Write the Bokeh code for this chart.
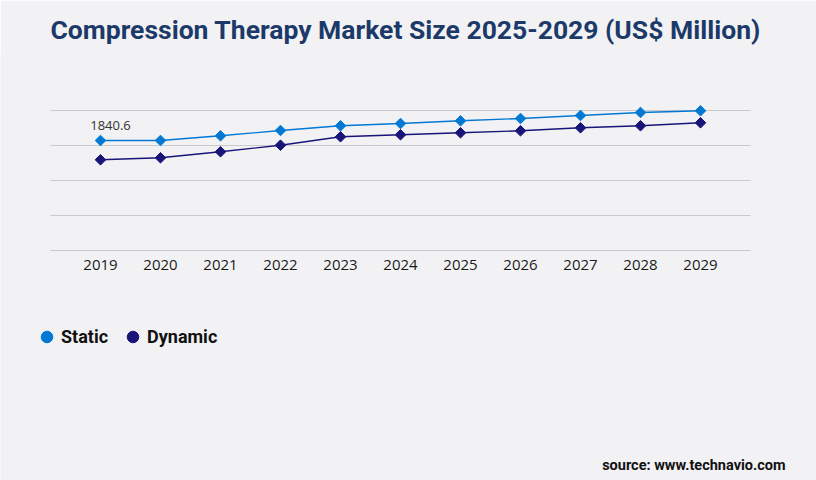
import math
from bokeh.plotting import figure
from bokeh.models import (Range1d, FixedTicker, Legend, LegendItem, Title, Label,
                          ColumnDataSource, LinearAxis, Grid)
from bokeh.embed import file_html
from bokeh.resources import INLINE

# ---- data ----
years = [2019, 2020, 2021, 2022, 2023, 2024, 2025, 2026, 2027, 2028, 2029]
year_labels = [str(y) for y in years]
static = [1840.6, 1840.9, 1919.3, 2008.0, 2087.0, 2125.1, 2170.2, 2209.0, 2259.0, 2309.2, 2338.0]
dynamic = [1517.7, 1551.0, 1652.0, 1762.0, 1903.0, 1936.0, 1970.0, 2003.0, 2053.0, 2087.0, 2137.0]
series_names = ["Static", "Dynamic"]
title_text = "Compression Therapy Market Size 2025-2029 (US$ Million)"
source_text = "source: www.technavio.com"
grid_step = 585.6

BG = "#f2f2f4"
C_STATIC = "#0078d4"
C_DYN = "#191478"
GRID = "#c9c9cc"

W, H = 816, 480
TOP = 52          # frame top (px)
BASE = 250        # px of value 0
PX = 35           # px per grid step
YR = 60           # px per year
X0 = 100          # px of first year

p = figure(width=W, height=H, output_backend="svg", toolbar_location=None,
           x_range=Range1d(years[0] - X0 / YR, years[0] + (W - X0) / YR),
           y_range=Range1d(-(H - BASE) / PX * grid_step, (BASE - TOP) / PX * grid_step),
           x_axis_location=None, y_axis_location=None,
           min_border_left=0, min_border_right=0, min_border_top=TOP, min_border_bottom=0,
           background_fill_color=BG, border_fill_color=BG, outline_line_color=None)

p.title.visible = False
title = Title(text=title_text, align="left", offset=50,
              text_font="Roboto", text_font_size="26.5px", text_font_style="bold",
              text_color="#1c3a69", standoff=15)
p.add_layout(title, "above")

p.grid.visible = False
x_lo, x_hi = years[0] - 50 / YR, years[0] + 650 / YR
grid = Grid(dimension=1, ticker=FixedTicker(ticks=[grid_step * i for i in range(1, 5)]),
            grid_line_color=GRID, grid_line_width=1, cross_bounds=(x_lo, x_hi))
p.add_layout(grid)

xa = LinearAxis(ticker=FixedTicker(ticks=years), fixed_location=0, bounds=(x_lo, x_hi))
xa.major_label_overrides = {y: l for y, l in zip(years, year_labels)}
xa.axis_line_color = GRID
xa.major_tick_line_color = None
xa.minor_tick_line_color = None
xa.major_label_standoff = 3
xa.major_label_text_font = "Open Sans"
xa.major_label_text_font_size = "15px"
xa.major_label_text_color = "#1a1a1a"
p.add_layout(xa, "below")

src = ColumnDataSource(dict(x=years, s=static, d=dynamic))
p.line("x", "s", source=src, line_color=C_STATIC, line_width=1.4)
p.line("x", "d", source=src, line_color=C_DYN, line_width=1.4)
p.scatter("x", "s", source=src, marker="square", angle=math.pi / 4, size=7.5,
          fill_color=C_STATIC, line_color=C_STATIC)
p.scatter("x", "d", source=src, marker="square", angle=math.pi / 4, size=7.5,
          fill_color=C_DYN, line_color=C_DYN)

lbl = Label(x=years[0], y=static[0], text=f"{static[0]}", x_offset=10, y_offset=15,
            text_align="center", text_baseline="middle", text_font="Open Sans",
            text_font_size="13px", text_color="#333333")
p.add_layout(lbl)

# legend glyph renderers (hidden; only their style is shown in the legend)
r1 = p.scatter("x", "s", source=src, marker="circle", size=12, fill_color=C_STATIC,
               line_color=C_STATIC, visible=False)
r2 = p.scatter("x", "d", source=src, marker="circle", size=12, fill_color=C_DYN,
               line_color=C_DYN, visible=False)

legend = Legend(items=[LegendItem(label=series_names[0], renderers=[r1]),
                       LegendItem(label=series_names[1], renderers=[r2])],
                orientation="horizontal", location=(32, H - 321 - 31), margin=0, padding=0,
                spacing=10, glyph_width=29, glyph_height=31, label_standoff=0,
                label_text_font="Roboto", label_text_font_size="18px", label_text_font_style="bold",
                label_text_color="#111111", background_fill_alpha=0, border_line_alpha=0,
                inactive_fill_alpha=0)
p.add_layout(legend)

src_lbl = Label(x=years[-1], y=0, x_offset=85, y_offset=-215, text=source_text,
                text_align="right", text_baseline="middle",
                text_font="Roboto", text_font_size="14.5px", text_font_style="bold", text_color="#111111")
p.add_layout(src_lbl)

open("out.html", "w").write(file_html(p, INLINE))
